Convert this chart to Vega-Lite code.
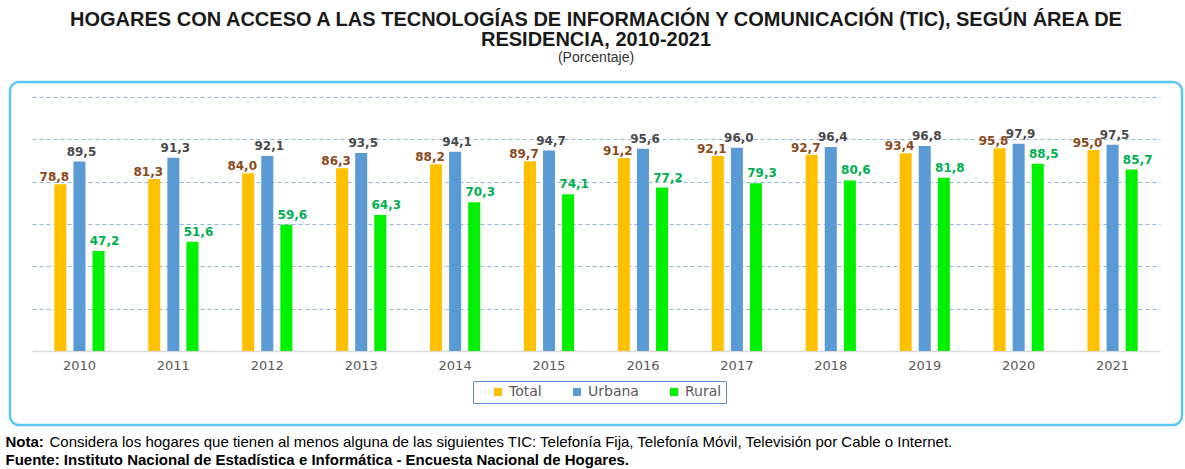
{
  "$schema": "https://vega.github.io/schema/vega-lite/v6.json",
  "width": 1172,
  "height": 343,
  "autosize": {"type": "none"},
  "padding": {"left": 10, "top": 82, "right": 3, "bottom": 44},
  "background": "white",
  "title": {
    "text": ["HOGARES CON ACCESO A LAS TECNOLOGÍAS DE INFORMACIÓN Y COMUNICACIÓN (TIC), SEGÚN ÁREA DE", "RESIDENCIA, 2010-2021"],
    "subtitle": "(Porcentaje)",
    "anchor": "middle",
    "frame": "group",
    "font": "Liberation Sans",
    "fontSize": 20,
    "fontWeight": "bold",
    "color": "#1A1A1A",
    "lineHeight": 20,
    "subtitleFont": "Liberation Sans",
    "subtitleFontSize": 14,
    "subtitleColor": "#333333",
    "subtitlePadding": 1,
    "offset": 17
  },
  "config": {
    "locale": {"number": {"decimal": ",", "thousands": ".", "grouping": [3], "currency": ["", ""]}},
    "view": {"stroke": "#5AC8F2", "strokeWidth": 2.5, "cornerRadius": 9, "fill": "white"}
  },
  "data": {
    "values": [
      {"anio": "2010", "area": "Total", "valor": 78.8},
      {"anio": "2010", "area": "Urbana", "valor": 89.5},
      {"anio": "2010", "area": "Rural", "valor": 47.2},
      {"anio": "2011", "area": "Total", "valor": 81.3},
      {"anio": "2011", "area": "Urbana", "valor": 91.3},
      {"anio": "2011", "area": "Rural", "valor": 51.6},
      {"anio": "2012", "area": "Total", "valor": 84.0},
      {"anio": "2012", "area": "Urbana", "valor": 92.1},
      {"anio": "2012", "area": "Rural", "valor": 59.6},
      {"anio": "2013", "area": "Total", "valor": 86.3},
      {"anio": "2013", "area": "Urbana", "valor": 93.5},
      {"anio": "2013", "area": "Rural", "valor": 64.3},
      {"anio": "2014", "area": "Total", "valor": 88.2},
      {"anio": "2014", "area": "Urbana", "valor": 94.1},
      {"anio": "2014", "area": "Rural", "valor": 70.3},
      {"anio": "2015", "area": "Total", "valor": 89.7},
      {"anio": "2015", "area": "Urbana", "valor": 94.7},
      {"anio": "2015", "area": "Rural", "valor": 74.1},
      {"anio": "2016", "area": "Total", "valor": 91.2},
      {"anio": "2016", "area": "Urbana", "valor": 95.6},
      {"anio": "2016", "area": "Rural", "valor": 77.2},
      {"anio": "2017", "area": "Total", "valor": 92.1},
      {"anio": "2017", "area": "Urbana", "valor": 96.0},
      {"anio": "2017", "area": "Rural", "valor": 79.3},
      {"anio": "2018", "area": "Total", "valor": 92.7},
      {"anio": "2018", "area": "Urbana", "valor": 96.4},
      {"anio": "2018", "area": "Rural", "valor": 80.6},
      {"anio": "2019", "area": "Total", "valor": 93.4},
      {"anio": "2019", "area": "Urbana", "valor": 96.8},
      {"anio": "2019", "area": "Rural", "valor": 81.8},
      {"anio": "2020", "area": "Total", "valor": 95.8},
      {"anio": "2020", "area": "Urbana", "valor": 97.9},
      {"anio": "2020", "area": "Rural", "valor": 88.5},
      {"anio": "2021", "area": "Total", "valor": 95.0},
      {"anio": "2021", "area": "Urbana", "valor": 97.5},
      {"anio": "2021", "area": "Rural", "valor": 85.7}
    ]
  },
  "encoding": {
    "x": {
      "field": "anio",
      "type": "nominal",
      "scale": {"range": [22, 1150], "paddingInner": 0.39, "paddingOuter": 0.2},
      "axis": {
        "orient": "bottom",
        "offset": -74,
        "labelAngle": 0,
        "labelFont": "DejaVu Sans",
        "labelFontSize": 13,
        "labelColor": "#595959",
        "labelPadding": 8,
        "ticks": false,
        "grid": false,
        "domainColor": "#D9D9D9",
        "domainWidth": 1.5,
        "title": "Fuente: Instituto Nacional de Estadística e Informática - Encuesta Nacional de Hogares.",
        "titleX": -5,
        "titleY": 113,
        "titleAlign": "left",
        "titleAnchor": "start",
        "titleBaseline": "alphabetic",
        "titleFont": "Liberation Sans",
        "titleFontSize": 15,
        "titleFontWeight": "bold",
        "titleColor": "#000000",
        "titleLimit": 2000
      }
    },
    "xOffset": {
      "field": "area",
      "sort": ["Total", "Urbana", "Rural"],
      "scale": {"paddingInner": 0.37, "paddingOuter": 0.185}
    }
  },
  "layer": [
    {
      "mark": {"type": "bar"},
      "encoding": {
        "y": {
          "field": "valor",
          "type": "quantitative",
          "scale": {"domain": [0, 120], "range": [269, 15]},
          "axis": {
            "orient": "left",
            "values": [20, 40, 60, 80, 100, 120],
            "grid": true,
            "gridDash": [4, 3],
            "gridColor": "#8DB8E3",
            "gridWidth": 1,
            "labels": false,
            "ticks": false,
            "domain": false,
            "title": "Nota:",
            "titleAngle": 0,
            "titleX": -5,
            "titleY": 364,
            "titleAlign": "left",
            "titleAnchor": "start",
            "titleBaseline": "alphabetic",
            "titleFont": "Liberation Sans",
            "titleFontSize": 15,
            "titleFontWeight": "bold",
            "titleColor": "#000000",
            "titleLimit": 500
          }
        },
        "color": {
          "field": "area",
          "type": "nominal",
          "scale": {"domain": ["Total", "Urbana", "Rural"], "range": ["#FFC000", "#5B9BD5", "#00F000"]},
          "legend": {
            "orient": "none",
            "legendX": 463,
            "legendY": 299,
            "direction": "horizontal",
            "title": null,
            "strokeColor": "#5B8FD0",
            "padding": 4,
            "symbolType": "square",
            "symbolSize": 64,
            "symbolStrokeWidth": 0,
            "symbolOffset": 14,
            "labelFont": "DejaVu Sans",
            "labelFontSize": 14,
            "labelColor": "#595959",
            "labelOffset": 4,
            "columnPadding": 14
          }
        }
      }
    },
    {
      "transform": [{"filter": "datum.area === 'Total'"}],
      "mark": {"type": "text", "dx": -6, "dy": -3, "baseline": "alphabetic", "font": "DejaVu Sans", "fontSize": 12, "fontWeight": "bold", "color": "#8B4A1C"},
      "encoding": {
        "y": {
          "field": "valor",
          "type": "quantitative",
          "scale": {"domain": [0, 120], "range": [269, 15]},
          "axis": {
            "orient": "right",
            "grid": false,
            "labels": false,
            "ticks": false,
            "domain": false,
            "title": "Considera los hogares que tienen al menos alguna de las siguientes TIC: Telefonía Fija, Telefonía Móvil, Televisión por Cable o Internet.",
            "titleAngle": 0,
            "titleX": -1133,
            "titleY": 364,
            "titleAlign": "left",
            "titleAnchor": "start",
            "titleBaseline": "alphabetic",
            "titleFont": "Liberation Sans",
            "titleFontSize": 15,
            "titleFontWeight": "normal",
            "titleColor": "#000000",
            "titleLimit": 2000
          }
        },
        "text": {"field": "valor", "type": "quantitative", "format": ".1f"}
      }
    },
    {
      "transform": [{"filter": "datum.area === 'Urbana'"}],
      "mark": {"type": "text", "dx": 2, "dy": -6, "baseline": "alphabetic", "font": "DejaVu Sans", "fontSize": 12, "fontWeight": "bold", "color": "#4A4A4A"},
      "encoding": {
        "y": {"field": "valor", "type": "quantitative", "scale": {"domain": [0, 120], "range": [269, 15]}, "axis": null},
        "text": {"field": "valor", "type": "quantitative", "format": ".1f"}
      }
    },
    {
      "transform": [{"filter": "datum.area === 'Rural'"}],
      "mark": {"type": "text", "dx": 6, "dy": -6, "baseline": "alphabetic", "font": "DejaVu Sans", "fontSize": 12, "fontWeight": "bold", "color": "#00B050"},
      "encoding": {
        "y": {"field": "valor", "type": "quantitative", "scale": {"domain": [0, 120], "range": [269, 15]}, "axis": null},
        "text": {"field": "valor", "type": "quantitative", "format": ".1f"}
      }
    }
  ],
  "resolve": {"axis": {"y": "independent"}}
}
